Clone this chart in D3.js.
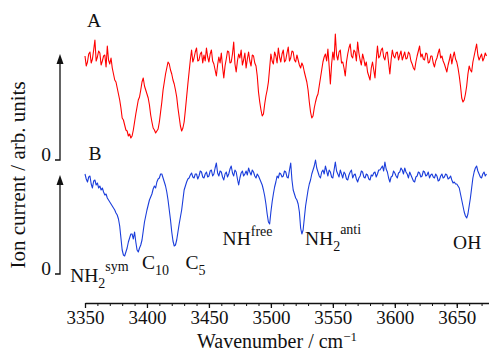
<!DOCTYPE html>
<html><head><meta charset="utf-8">
<script src="https://cdn.jsdelivr.net/npm/d3@7/dist/d3.min.js"></script>
<style>
body{margin:0;background:#fff}
text{font-family:"Liberation Serif","Times New Roman",serif;fill:#111}
</style>
</head><body>
<svg id="chart" width="489" height="353"></svg>
<script>
// wavenumber grid: 3350, 3351, ... (cm^-1)
const wnStart = 3350, wnStep = 1;
// trace A (red), ion current, arb. units
const traceA = [
1.04,0.94,0.98,1.06,1.08,0.97,1.01,1.10,1.20,0.99,
1.03,1.09,1.07,0.95,0.99,1.04,1.05,0.93,1.14,1.00,
0.96,1.02,0.92,0.86,0.80,0.78,0.72,0.66,0.60,0.52,
0.42,0.40,0.35,0.30,0.29,0.24,0.26,0.22,0.24,0.30,
0.38,0.46,0.53,0.60,0.63,0.70,0.78,0.82,0.74,0.70,
0.66,0.62,0.55,0.45,0.38,0.32,0.30,0.27,0.29,0.31,
0.38,0.48,0.58,0.70,0.78,0.86,0.92,0.98,0.96,0.90,
0.86,0.80,0.76,0.70,0.63,0.52,0.43,0.34,0.29,0.32,
0.38,0.50,0.63,0.76,0.88,1.00,1.10,0.98,1.02,1.08,
1.12,0.99,1.00,1.06,1.08,0.97,1.05,0.99,1.12,1.03,
0.98,1.06,1.10,0.99,0.96,0.90,0.84,0.95,1.03,0.97,
1.07,0.93,0.82,0.94,1.01,1.09,1.08,0.97,0.98,1.06,
1.18,0.96,0.88,0.99,1.06,1.02,1.10,0.95,1.00,1.07,
0.92,1.01,1.08,0.99,0.94,1.05,1.04,0.97,0.94,0.84,
0.68,0.58,0.50,0.44,0.46,0.56,0.64,0.70,0.78,0.92,
1.06,0.99,0.96,1.08,1.04,0.97,1.12,1.03,0.98,1.06,
1.10,0.98,1.00,1.07,1.13,0.99,1.02,1.09,1.08,1.00,
0.98,1.05,1.00,0.95,0.92,0.97,0.94,0.88,0.83,0.78,
0.70,0.58,0.48,0.42,0.44,0.52,0.58,0.63,0.66,0.74,
0.82,0.90,0.98,1.03,1.06,0.99,1.11,0.94,0.76,0.96,
1.08,1.00,1.26,1.05,1.00,1.08,1.10,0.97,0.98,0.92,
0.84,0.98,1.06,1.12,1.16,1.04,1.02,1.10,1.08,0.99,
1.18,1.07,1.00,0.95,1.06,1.01,0.94,0.98,0.88,0.84,
0.80,0.92,0.98,0.90,0.82,1.00,1.14,1.02,1.04,1.10,
1.12,1.03,1.00,1.07,1.08,0.97,0.86,1.00,1.10,1.04,
1.02,1.07,1.08,1.00,1.05,1.09,1.00,1.04,1.08,1.01,
1.02,1.08,1.06,0.99,0.96,0.92,0.90,0.98,1.04,1.09,
1.14,1.03,1.06,1.01,1.00,1.07,1.06,0.97,0.98,1.04,
1.04,0.97,0.93,0.99,1.02,1.07,1.11,1.02,1.04,0.99,
0.96,0.92,0.88,0.95,1.00,1.06,0.96,1.03,1.08,1.01,
0.98,0.92,0.84,0.74,0.62,0.58,0.60,0.66,0.74,0.86,
0.94,0.90,0.88,0.98,1.04,1.10,1.16,1.05,1.00,1.03,
1.06,0.99,1.02,1.07,1.04];
// trace B (blue)
const traceB = [
1.00,0.95,0.92,0.97,0.98,0.90,0.86,0.93,0.94,0.89,
0.91,0.86,0.88,0.84,0.86,0.82,0.79,0.80,0.76,0.74,
0.72,0.70,0.68,0.66,0.64,0.61,0.59,0.55,0.48,0.36,
0.24,0.19,0.18,0.22,0.26,0.32,0.36,0.40,0.40,0.35,
0.42,0.32,0.24,0.22,0.26,0.29,0.34,0.43,0.52,0.58,
0.64,0.69,0.74,0.77,0.80,0.85,0.88,0.86,0.92,0.95,
0.96,1.00,1.00,0.96,0.92,0.88,0.82,0.74,0.64,0.54,
0.42,0.33,0.28,0.29,0.34,0.42,0.50,0.57,0.64,0.74,
0.84,0.88,0.92,0.95,0.96,0.99,1.01,0.97,0.96,1.00,
1.00,0.95,0.98,1.03,1.02,0.97,0.96,1.00,1.02,0.97,
0.98,1.03,1.04,0.98,1.00,1.06,1.11,1.01,0.98,1.03,
1.02,0.97,0.94,1.00,1.02,0.97,1.00,1.05,1.08,1.01,
0.98,1.04,1.02,0.95,0.89,0.96,1.01,1.03,0.98,1.00,
1.03,0.99,1.06,1.02,0.99,1.04,1.02,0.98,0.96,1.00,
0.98,0.95,0.92,0.89,0.84,0.78,0.70,0.60,0.52,0.50,
0.62,0.72,0.80,0.87,0.92,0.98,0.96,1.01,1.00,0.97,
0.98,1.03,1.02,0.97,0.96,1.04,1.11,0.94,0.84,0.80,
0.76,0.74,0.70,0.62,0.46,0.40,0.44,0.56,0.68,0.76,
0.84,0.90,0.94,1.00,1.04,1.08,1.14,1.06,1.02,0.98,
0.96,1.02,1.04,1.00,1.08,1.03,0.98,1.04,1.02,0.97,
0.96,1.04,1.12,1.03,1.00,0.97,1.04,1.00,0.96,1.02,
1.00,0.95,0.94,0.99,1.02,1.04,0.96,0.99,1.00,0.95,
0.92,0.96,0.98,1.03,1.02,0.97,0.96,1.00,0.99,0.95,
0.94,0.99,0.98,1.01,1.02,0.97,1.00,1.04,1.04,1.06,
1.08,1.03,1.12,1.05,1.02,0.96,0.92,0.97,0.98,1.03,
1.01,0.98,0.96,1.01,1.02,1.06,1.04,1.00,1.06,1.02,
1.00,0.96,1.02,0.99,0.96,0.93,0.92,0.97,0.98,1.02,
1.01,0.97,0.98,1.03,1.02,0.98,0.99,1.02,0.96,0.99,
1.00,0.97,0.96,1.00,0.98,0.93,0.94,0.98,1.00,0.96,
0.97,1.00,0.99,0.95,0.96,0.98,0.94,0.91,0.92,0.90,
0.90,0.88,0.86,0.80,0.74,0.68,0.62,0.58,0.56,0.60,
0.68,0.76,0.86,0.96,1.02,1.06,1.08,1.03,1.00,0.97,
0.96,1.00,1.02,0.98,1.00];
const majorTicks = [3350,3400,3450,3500,3550,3600,3650];
const minorTicks = d3.range(3350, 3680, 10);
const traceNames = ["A","B"];
const peakLabels = [
  {main:"NH", sub:"2", sup:"sym", wn:3338},
  {main:"C", sub:"10", sup:"", wn:3396},
  {main:"C", sub:"5", sup:"", wn:3431},
  {main:"NH", sub:"", sup:"free", wn:3461},
  {main:"NH", sub:"2", sup:"anti", wn:3527.5},
  {main:"OH", sub:"", sup:"", wn:3647}
];
const labelYs = [282, 269, 269, 245, 245, 249];

const svg = d3.select("#chart");
const x = d3.scaleLinear().domain([3350, 3676]).range([85, 489]);
const yA = d3.scaleLinear().domain([0, 1]).range([160, 60]);
const yB = d3.scaleLinear().domain([0, 1]).range([274, 174]);
const wn = traceA.map((_, i) => wnStart + i * wnStep);

function drawTrace(vals, y, color){
  const line = d3.line().x((d,i)=>x(wn[i])).y(d=>y(d));
  svg.append("path").datum(vals).attr("d", line)
    .attr("fill","none").attr("stroke",color).attr("stroke-width",1.1)
    .attr("stroke-linejoin","round");
}
drawTrace(traceA, yA, "#ff0000");
drawTrace(traceB, yB, "#1a3ddb");

// x axis
const axisY = 303;
const gMinor = svg.append("g").attr("transform",`translate(0,${axisY})`)
  .call(d3.axisBottom(x).tickValues(minorTicks).tickSize(3).tickSizeOuter(0).tickFormat(""));
gMinor.select(".domain").attr("stroke","#111").attr("stroke-width",1.3);
gMinor.selectAll(".tick line").attr("stroke","#111").attr("stroke-width",1);
const gMajor = svg.append("g").attr("transform",`translate(0,${axisY})`)
  .call(d3.axisBottom(x).tickValues(majorTicks).tickSize(5).tickSizeOuter(0).tickFormat(d3.format("d")));
gMajor.select(".domain").remove();
gMajor.selectAll(".tick line").attr("stroke","#111").attr("stroke-width",1.3);
gMajor.selectAll(".tick text").attr("font-size",19).attr("font-family","Liberation Serif, serif")
  .attr("fill","#111").attr("y",8).attr("dy","0.71em");

const xt = svg.append("text").attr("x",277).attr("y",348).attr("text-anchor","middle").attr("font-size",20);
xt.append("tspan").text("Wavenumber / cm");
xt.append("tspan").attr("dy",-7).attr("font-size",13).text("\u22121");

// y "axes" with arrows
function yArrow(y, tipY){
  const ax = 60;
  svg.append("path").attr("d",`M${ax-5},${y(0)}H${ax}V${tipY+8}`)
    .attr("fill","none").attr("stroke","#111").attr("stroke-width",1.3);
  svg.append("path").attr("d",`M${ax},${tipY}L${ax-3.5},${tipY+10}L${ax+3.5},${tipY+10}Z`).attr("fill","#111");
  svg.append("text").attr("x",51).attr("y",y(0)+1).attr("text-anchor","end").attr("font-size",19.5).text("0");
}
yArrow(yA, 54);
yArrow(yB, 175);

svg.append("text").attr("transform","translate(25,175) rotate(-90)")
  .attr("text-anchor","middle").attr("font-size",21).text("Ion current / arb. units");

// trace names
svg.append("text").attr("x",94).attr("y",27).attr("text-anchor","middle").attr("font-size",19.5).text(traceNames[0]);
svg.append("text").attr("x",95).attr("y",160).attr("text-anchor","middle").attr("font-size",19.5).text(traceNames[1]);

// peak labels
peakLabels.forEach((p, i) => {
  const t = svg.append("text").attr("x", x(p.wn)).attr("y", labelYs[i]).attr("font-size",19.5);
  t.append("tspan").text(p.main);
  if (p.sub) t.append("tspan").attr("dy",6).attr("font-size",14).text(p.sub);
  if (p.sup) t.append("tspan").attr("dy", p.sub ? -17 : -9).attr("font-size",14).text(p.sup);
});
</script>
</body></html>
